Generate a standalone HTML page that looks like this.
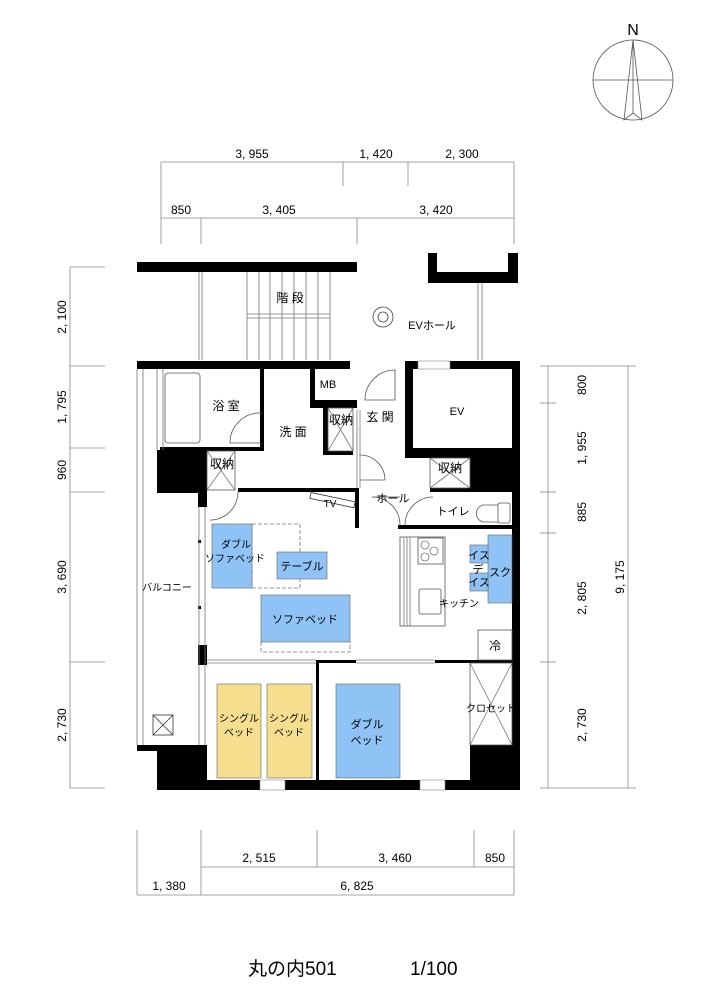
<!DOCTYPE html>
<html><head><meta charset="utf-8"><style>
html,body{margin:0;padding:0;background:#fff;}
svg{display:block;}
text{font-family:"Liberation Sans","Noto Sans CJK JP",sans-serif;fill:#000;}
</style></head><body>
<svg width="721" height="1000" viewBox="0 0 721 1000" xmlns="http://www.w3.org/2000/svg">
<rect width="721" height="1000" fill="#fff"/>
<g stroke="#555" stroke-width="0.8" fill="none">
<circle cx="633" cy="80" r="40"/>
<line x1="593" y1="80" x2="673" y2="80"/>
<polyline points="633,40 624,120 633,113 642,120 633,40"/>
<line x1="633" y1="40" x2="633" y2="113"/>
</g>
<text x="633" y="35" font-size="16" text-anchor="middle">N</text>
<g stroke="#888" stroke-width="0.8">
<line x1="161" y1="162" x2="514" y2="162"/>
<line x1="161" y1="162" x2="161" y2="244"/><line x1="343" y1="162" x2="343" y2="186"/><line x1="408" y1="162" x2="408" y2="186"/><line x1="514" y1="162" x2="514" y2="244"/>
<line x1="161" y1="218" x2="514" y2="218"/>
<line x1="201" y1="218" x2="201" y2="244"/><line x1="357" y1="218" x2="357" y2="244"/>
<line x1="70" y1="267" x2="70" y2="788"/>
<line x1="70" y1="267" x2="105" y2="267"/><line x1="70" y1="366" x2="105" y2="366"/><line x1="70" y1="448" x2="105" y2="448"/><line x1="70" y1="492" x2="105" y2="492"/><line x1="70" y1="662" x2="105" y2="662"/><line x1="70" y1="788" x2="105" y2="788"/>
<line x1="548" y1="366" x2="548" y2="788"/>
<line x1="628" y1="366" x2="628" y2="788"/>
<line x1="540" y1="366" x2="636" y2="366"/><line x1="540" y1="403" x2="556" y2="403"/><line x1="540" y1="492" x2="556" y2="492"/><line x1="540" y1="533" x2="556" y2="533"/><line x1="540" y1="662" x2="556" y2="662"/><line x1="540" y1="788" x2="636" y2="788"/>
<line x1="201" y1="867" x2="514" y2="867"/>
<line x1="137" y1="895" x2="514" y2="895"/>
<line x1="137" y1="830" x2="137" y2="895"/><line x1="201" y1="830" x2="201" y2="895"/><line x1="317" y1="830" x2="317" y2="867"/><line x1="474" y1="830" x2="474" y2="867"/><line x1="514" y1="830" x2="514" y2="895"/>
</g>
<g font-size="12" text-anchor="middle">
<text x="252" y="158">3, 955</text><text x="376" y="158">1, 420</text><text x="462" y="158">2, 300</text>
<text x="181" y="214">850</text><text x="279" y="214">3, 405</text><text x="436" y="214">3, 420</text>
<text x="259" y="862">2, 515</text><text x="395" y="862">3, 460</text><text x="495" y="862">850</text>
<text x="169" y="890">1, 380</text><text x="357" y="890">6, 825</text>
<text transform="translate(66,317) rotate(-90)">2, 100</text>
<text transform="translate(66,407) rotate(-90)">1, 795</text>
<text transform="translate(66,470) rotate(-90)">960</text>
<text transform="translate(66,577) rotate(-90)">3, 690</text>
<text transform="translate(66,725) rotate(-90)">2, 730</text>
<text transform="translate(586,385) rotate(-90)">800</text>
<text transform="translate(586,448) rotate(-90)">1, 955</text>
<text transform="translate(586,512) rotate(-90)">885</text>
<text transform="translate(586,598) rotate(-90)">2, 805</text>
<text transform="translate(586,725) rotate(-90)">2, 730</text>
<text transform="translate(624,577) rotate(-90)">9, 175</text>
</g>
<rect x="137" y="262" width="220" height="10" fill="#000"/>
<path d="M428 253h9v19h71v-19h10v30h-90z" fill="#000"/>
<g stroke="#777" stroke-width="0.8" fill="none">
<line x1="199" y1="272" x2="199" y2="360"/><line x1="202" y1="272" x2="202" y2="360"/>
<line x1="478" y1="283" x2="478" y2="360"/><line x1="482" y1="283" x2="482" y2="360"/>
<line x1="247" y1="314" x2="330" y2="314"/><line x1="247" y1="318" x2="330" y2="318"/>
<line x1="247" y1="272" x2="247" y2="360"/><line x1="259" y1="272" x2="259" y2="360"/><line x1="270" y1="272" x2="270" y2="360"/><line x1="282" y1="272" x2="282" y2="360"/><line x1="294" y1="272" x2="294" y2="360"/><line x1="306" y1="272" x2="306" y2="360"/><line x1="318" y1="272" x2="318" y2="360"/><line x1="330" y1="272" x2="330" y2="360"/>
<circle cx="383" cy="317" r="10" stroke="#444"/><circle cx="383" cy="317" r="5" stroke="#444"/>
</g>
<g fill="#000">
<rect x="137" y="361" width="213" height="8"/>
<rect x="405" y="361" width="115" height="8"/>
<rect x="512" y="361" width="8" height="429"/>
<rect x="405" y="361" width="8" height="97"/>
<rect x="405" y="448" width="115" height="10"/>
<rect x="470" y="448" width="50" height="42"/>
<rect x="310" y="369" width="5" height="38"/>
<rect x="310" y="400" width="47" height="8"/>
<rect x="323" y="400" width="5" height="55"/>
<rect x="323" y="451" width="30" height="4"/>
<rect x="157" y="450" width="43" height="43"/>
<rect x="198" y="450" width="9" height="57"/>
<rect x="260" y="368" width="4" height="83"/>
<rect x="160" y="447" width="104" height="4"/>
<rect x="238" y="488" width="121" height="4"/>
<rect x="355" y="488" width="4" height="40"/>
<rect x="398" y="525" width="114" height="4"/>
<rect x="430" y="488" width="82" height="4"/>
<rect x="157" y="745" width="50" height="45"/>
<rect x="137" y="745" width="22" height="6"/>
<rect x="157" y="780" width="363" height="10"/>
<rect x="470" y="745" width="50" height="45"/>
<rect x="316" y="660" width="3" height="122"/>
<rect x="316" y="660" width="40" height="3"/>
<rect x="435" y="660" width="80" height="3"/>
<rect x="198" y="645" width="9" height="20"/>
<rect x="198" y="540" width="3" height="3"/><rect x="198" y="606" width="3" height="3"/>
</g>
<rect x="260" y="780" width="25" height="10" fill="#fff" stroke="#888" stroke-width="0.6"/>
<rect x="420" y="780" width="25" height="10" fill="#fff" stroke="#888" stroke-width="0.6"/>
<rect x="418" y="361" width="32" height="8" fill="#fff" stroke="#888" stroke-width="0.6"/>
<g stroke="#777" stroke-width="0.8" fill="none">
<line x1="137" y1="369" x2="137" y2="745"/><line x1="143" y1="369" x2="143" y2="745"/>
<line x1="199" y1="507" x2="199" y2="745"/><line x1="205" y1="507" x2="205" y2="745"/>
<rect x="153" y="715" width="20" height="20" stroke="#333"/>
<line x1="153" y1="715" x2="173" y2="735" stroke="#333"/><line x1="173" y1="715" x2="153" y2="735" stroke="#333"/>
<rect x="165" y="373" width="35" height="70" rx="3" stroke="#555"/>
<line x1="157" y1="369" x2="157" y2="450"/><line x1="163" y1="369" x2="163" y2="450"/>
<path d="M262 413 A30 30 0 0 0 230 443 L262 443" stroke="#555"/>
<rect x="207" y="451" width="28" height="39" stroke="#555"/>
<line x1="207" y1="451" x2="235" y2="490"/><line x1="235" y1="451" x2="207" y2="490"/>
<rect x="328" y="408" width="25" height="43" stroke="#555"/>
<line x1="328" y1="408" x2="353" y2="451"/><line x1="353" y1="408" x2="328" y2="451"/>
<rect x="430" y="458" width="40" height="30" stroke="#555"/>
<line x1="430" y1="458" x2="470" y2="488"/><line x1="470" y1="458" x2="430" y2="488"/>
<rect x="470" y="663" width="42" height="82" stroke="#555"/>
<line x1="470" y1="663" x2="512" y2="745"/><line x1="512" y1="663" x2="470" y2="745"/>
<path d="M395 370 A30 30 0 0 0 365 400 L395 400 Z" stroke="#555"/>
<path d="M360 455 A25 25 0 0 1 385 480 L360 480" stroke="#555"/>
<path d="M400 525 A28 28 0 0 0 372 497 M372 497 L400 497" stroke="#555"/>
<path d="M405 525 A28 28 0 0 1 433 497" stroke="#555"/>
<path d="M238 492 A28 28 0 0 1 210 520" stroke="#555"/>
<line x1="357" y1="410" x2="357" y2="488"/><line x1="360" y1="410" x2="360" y2="488"/>
<line x1="207" y1="660" x2="316" y2="660"/><line x1="207" y1="663" x2="316" y2="663"/>
<line x1="356" y1="660" x2="435" y2="660"/><line x1="356" y1="663" x2="435" y2="663"/>
<rect x="310" y="497" width="45" height="6" transform="rotate(12 332 500)" stroke="#333"/>
<rect x="498" y="503" width="12" height="20" rx="2" stroke="#555"/>
<path d="M498 505 h-15 a10 9 0 0 0 0 17 h15" stroke="#555"/>
<rect x="400" y="537" width="45" height="89" stroke="#555"/>
<line x1="404" y1="537" x2="404" y2="626"/><line x1="407" y1="537" x2="407" y2="626"/><line x1="410" y1="537" x2="410" y2="626"/>
<rect x="418" y="538" width="25" height="26" stroke="#555"/>
<circle cx="425" cy="545" r="4"/><circle cx="434" cy="551" r="4"/><circle cx="425" cy="557" r="4"/>
<rect x="419" y="589" width="22" height="25" rx="2" stroke="#555"/>
<rect x="478" y="630" width="34" height="30" stroke="#555"/>
<rect x="252" y="524" width="48" height="64" stroke-dasharray="4,2"/>
<path d="M261 642 V652 H350 V642" stroke-dasharray="4,2"/>
</g>
<g stroke="#666" stroke-width="0.6">
<rect x="212" y="524" width="40" height="64" fill="#8fc3f5"/>
<rect x="277" y="552" width="50" height="27" fill="#8fc3f5"/>
<rect x="261" y="595" width="89" height="47" fill="#8fc3f5"/>
<rect x="488" y="535" width="24" height="68" fill="#8fc3f5"/>
<rect x="470" y="545" width="18" height="18" fill="#8fc3f5"/>
<rect x="470" y="573" width="18" height="18" fill="#8fc3f5"/>
<rect x="217" y="684" width="44" height="94" fill="#f5df8f"/>
<rect x="267" y="684" width="45" height="94" fill="#f5df8f"/>
<rect x="336" y="684" width="64" height="94" fill="#8fc3f5"/>
</g>
<g font-size="12" text-anchor="middle">
<text x="290" y="302">階 段</text>
<text x="432" y="329" font-size="11">EVホール</text>
<text x="226" y="410">浴 室</text>
<text x="293" y="436">洗 面</text>
<text x="328" y="388" font-size="11">MB</text>
<text x="341" y="424">収納</text>
<text x="380" y="421">玄 関</text>
<text x="457" y="415" font-size="11">EV</text>
<text x="222" y="468">収納</text>
<text x="450" y="472">収納</text>
<text x="330" y="507" font-size="10">TV</text>
<text x="393" y="502" font-size="11">ホール</text>
<text x="453" y="515" font-size="11">トイレ</text>
<text x="236" y="548" font-size="10">ダブル</text>
<text x="235" y="562" font-size="10">ソファベッド</text>
<text x="302" y="570" font-size="11">テーブル</text>
<text x="305" y="623" font-size="11">ソファベッド</text>
<text x="479" y="559" font-size="11">イス</text>
<text x="479" y="586" font-size="11">イス</text>
<text x="478" y="573" font-size="11">デ</text>
<text x="500" y="576" font-size="11">スク</text>
<text x="459" y="607" font-size="10">キッチン</text>
<text x="495" y="650" font-size="12">冷</text>
<text x="167" y="591" font-size="10">バルコニー</text>
<text x="239" y="722" font-size="10">シングル</text>
<text x="239" y="736" font-size="10">ベッド</text>
<text x="289" y="722" font-size="10">シングル</text>
<text x="289" y="736" font-size="10">ベッド</text>
<text x="367" y="728" font-size="11">ダブル</text>
<text x="367" y="744" font-size="11">ベッド</text>
<text x="491" y="712" font-size="10">クロセット</text>
</g>
<text x="248" y="975" font-size="19">丸の内501</text>
<text x="410" y="975" font-size="19">1/100</text>
</svg>
</body></html>
